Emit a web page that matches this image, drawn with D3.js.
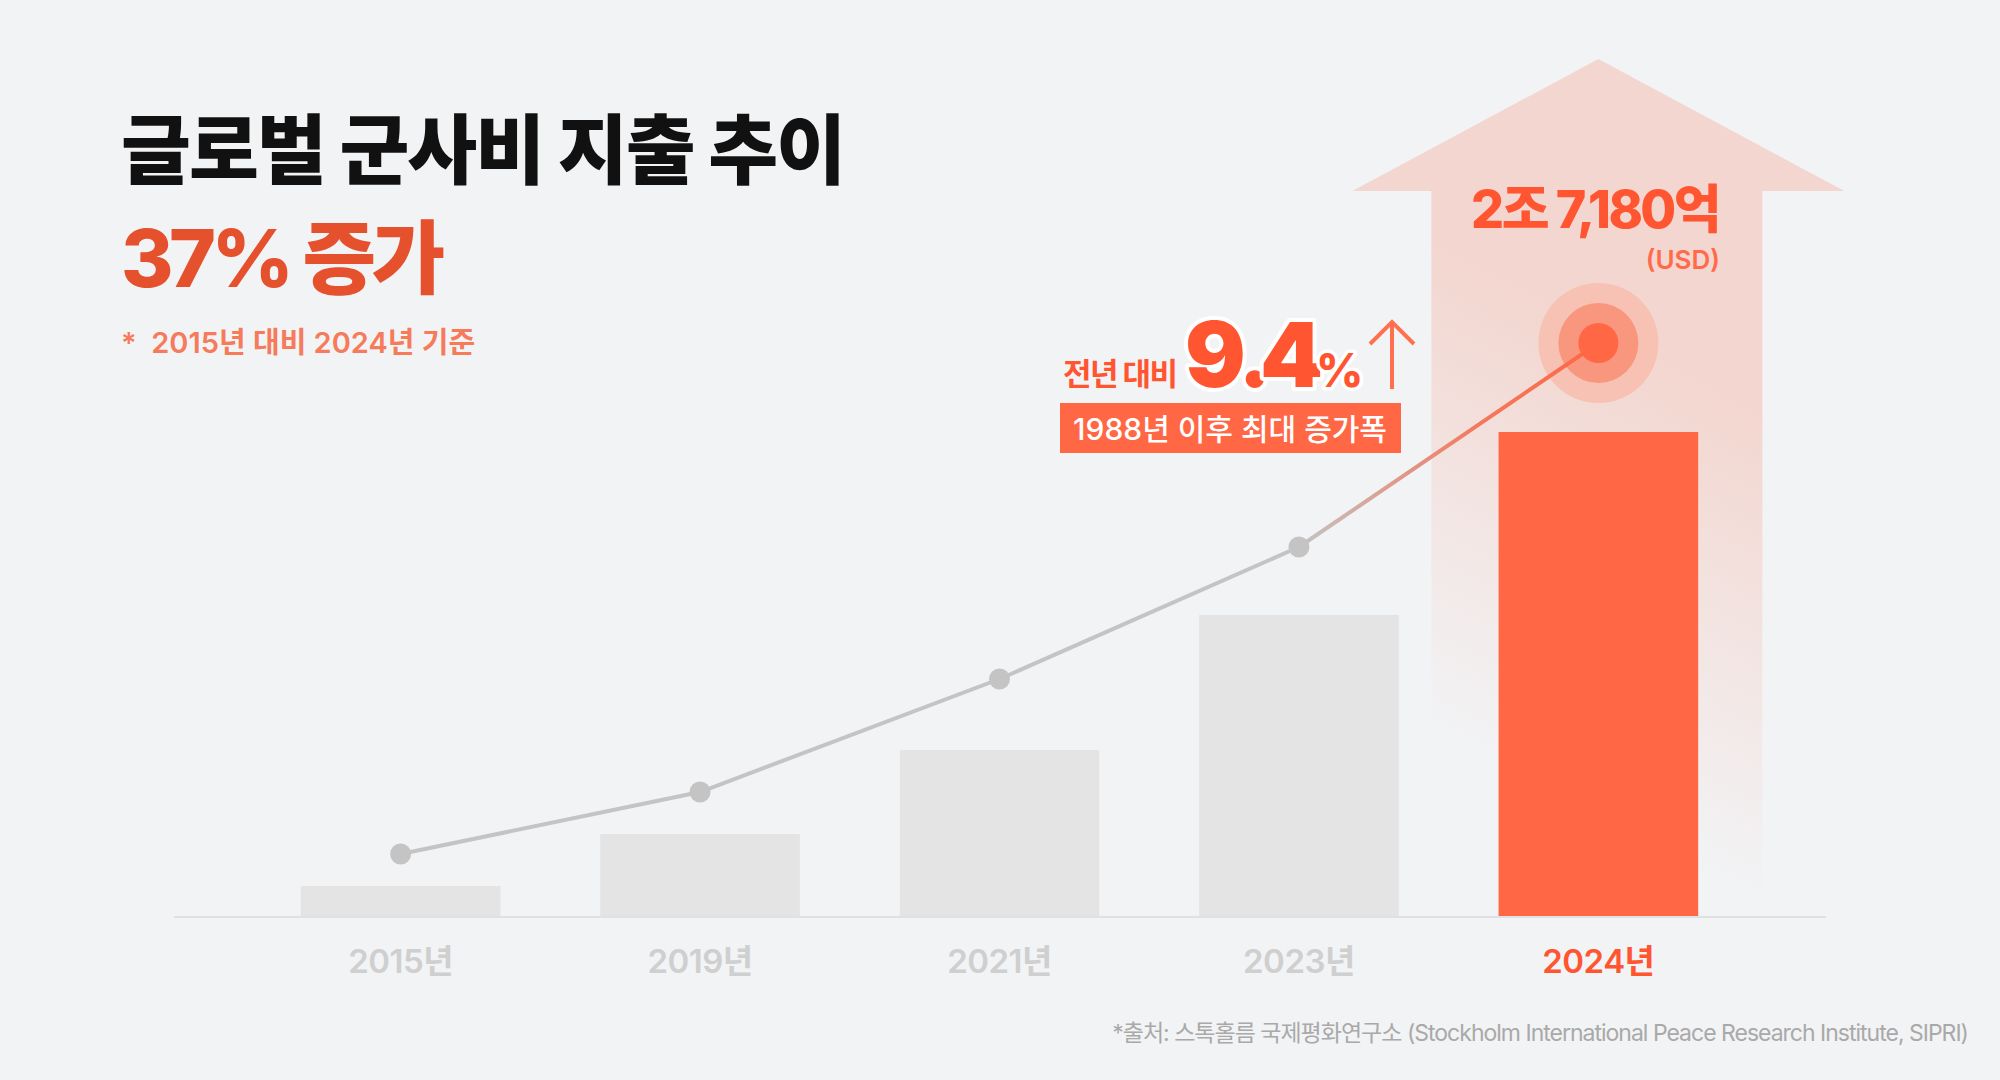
<!DOCTYPE html>
<html lang="ko">
<head>
<meta charset="UTF-8">
<title>글로벌 군사비 지출 추이</title>
<script src="https://d3js.org/d3.v7.min.js"></script>
<style>
  html, body { margin: 0; padding: 0; background: #f2f3f5; }
  svg { display: block; font-family: Inter, "Noto Sans CJK KR", sans-serif; }
</style>
</head>
<body>
<svg width="2000" height="1080"></svg>
<script>
// 데이터 (그림에서 읽은 상대값)
const years = ["2015년", "2019년", "2021년", "2023년", "2024년"];
const barValues = [30, 82, 166, 301, 484];
const lineValues = [62, 124, 237, 369, 573];
const highlightYear = "2024년";

const W = 2000, H = 1080;
const orange = "#ff6745";
const orangeText = "#ff5530";

const svg = d3.select("svg");
const defs = svg.append("defs");

svg.append("rect").attr("width", W).attr("height", H).attr("fill", "#f2f3f5");

const x = d3.scaleBand().domain(years).range([201, 1798]).padding(1 / 3);
const y = d3.scaleLinear().domain([0, 600]).range([916, 316]);
const cx = d => x(d) + x.bandwidth() / 2;

// 배경 화살표
const ag = defs.append("linearGradient").attr("id", "arrowGrad")
  .attr("x1", 0.65).attr("y1", 0).attr("x2", 0.35).attr("y2", 1);
ag.append("stop").attr("offset", 0).attr("stop-color", "#f3d6cf").attr("stop-opacity", 1);
ag.append("stop").attr("offset", 0.33).attr("stop-color", "#f3d6cf").attr("stop-opacity", 1);
ag.append("stop").attr("offset", 0.85).attr("stop-color", "#f3d6cf").attr("stop-opacity", 0);

const ac = cx(highlightYear);
const arrowPts = [
  [ac, 59], [ac + 246, 191], [ac + 164, 191], [ac + 164, 916],
  [ac - 167, 916], [ac - 167, 191], [ac - 246, 191]
];
svg.append("path")
  .attr("d", d3.line()(arrowPts) + "Z")
  .attr("fill", "url(#arrowGrad)");

// 막대
svg.append("g").selectAll("rect").data(years).join("rect")
  .attr("x", d => x(d))
  .attr("width", x.bandwidth())
  .attr("y", (d, i) => y(barValues[i]))
  .attr("height", (d, i) => y(0) - y(barValues[i]))
  .attr("fill", d => d === highlightYear ? orange : "#e4e4e4");

// 기준선
svg.append("line")
  .attr("x1", 174).attr("x2", 1826)
  .attr("y1", y(0) + 1).attr("y2", y(0) + 1)
  .attr("stroke", "#e0e1e3").attr("stroke-width", 2);

// x 라벨
const xAxis = svg.append("g")
  .attr("transform", `translate(0,${y(0)})`)
  .call(d3.axisBottom(x).tickSize(0).tickPadding(0));
xAxis.select(".domain").remove();
xAxis.selectAll("text")
  .attr("y", 57).attr("dy", 0)
  .attr("font-family", 'Inter, "Noto Sans CJK KR", sans-serif')
  .attr("font-size", 33).attr("font-weight", 600)
  .attr("letter-spacing", -0.5)
  .attr("fill", d => d === highlightYear ? orangeText : "#cfcfcf");

// 강조 원 (바깥쪽)
const hx = cx(highlightYear), hy = y(lineValues[4]);
svg.append("circle").attr("cx", hx).attr("cy", hy).attr("r", 60).attr("fill", "#f7c2b4");
svg.append("circle").attr("cx", hx).attr("cy", hy).attr("r", 40).attr("fill", "#f9967e");

// 추이선
const pts = years.map((d, i) => [cx(d), y(lineValues[i])]);
svg.append("path")
  .attr("d", d3.line()(pts.slice(0, 4)))
  .attr("fill", "none").attr("stroke", "#c4c4c4").attr("stroke-width", 4);

const lg = defs.append("linearGradient").attr("id", "lineGrad")
  .attr("gradientUnits", "userSpaceOnUse")
  .attr("x1", pts[3][0]).attr("y1", pts[3][1]).attr("x2", pts[4][0]).attr("y2", pts[4][1]);
lg.append("stop").attr("offset", 0).attr("stop-color", "#c4c4c4");
lg.append("stop").attr("offset", 0.6).attr("stop-color", "#f4785c");
lg.append("stop").attr("offset", 1).attr("stop-color", orange);
svg.append("path")
  .attr("d", d3.line()(pts.slice(3, 5)))
  .attr("fill", "none").attr("stroke", "url(#lineGrad)").attr("stroke-width", 4);

svg.append("g").selectAll("circle").data(pts.slice(0, 4)).join("circle")
  .attr("cx", d => d[0]).attr("cy", d => d[1]).attr("r", 10.5).attr("fill", "#c4c4c4");

svg.append("circle").attr("cx", hx).attr("cy", hy).attr("r", 20).attr("fill", orange);

// 제목
svg.append("text").attr("x", 121).attr("y", 178)
  .attr("font-size", 76).attr("font-weight", 800).attr("fill", "#111111")
  .attr("letter-spacing", -2)
  .text("글로벌 군사비 지출 추이");
svg.append("text").attr("x", 121).attr("y", 287)
  .attr("font-size", 80).attr("font-weight", 800).attr("fill", "#e5502d")
  .attr("letter-spacing", -4.5)
  .text("37% 증가");
svg.append("text").attr("x", 121).attr("y", 353)
  .attr("font-size", 29).attr("font-weight", 600).attr("fill", "#f57b5b")
  .attr("xml:space", "preserve").style("white-space", "pre")
  .text("*  2015년 대비 2024년 기준");

// 값 라벨
svg.append("text").attr("x", 1719).attr("y", 228).attr("text-anchor", "end")
  .attr("font-size", 52).attr("font-weight", 800).attr("fill", orangeText)
  .attr("letter-spacing", -2.6)
  .text("2조 7,180억");
svg.append("text").attr("x", 1720).attr("y", 269).attr("text-anchor", "end")
  .attr("font-size", 26).attr("font-weight", 600).attr("fill", "#ff6a4a")
  .text("(USD)");

// 전년 대비 9.4%
svg.append("text").attr("x", 1063).attr("y", 385)
  .attr("font-size", 31).attr("font-weight", 700).attr("fill", orangeText)
  .attr("letter-spacing", -1.6)
  .text("전년 대비");
const big = svg.append("text").attr("y", 387)
  .attr("font-size", 90).attr("font-weight", 900).attr("fill", orangeText)
  .attr("stroke", "#ffffff").attr("stroke-width", 8).attr("stroke-linejoin", "round")
  .attr("paint-order", "stroke");
big.append("tspan").attr("x", 1185).text("9");
big.append("tspan").attr("x", 1238).text(".");
big.append("tspan").attr("x", 1260).text("4");
big.append("tspan").attr("x", 1316).attr("font-size", 46).attr("font-weight", 800)
  .attr("stroke-width", 7).text("%");
svg.append("path")
  .attr("d", "M1392,389V322M1370,344L1392,322L1414,344")
  .attr("fill", "none").attr("stroke", "#ff7050").attr("stroke-width", 4);

svg.append("rect").attr("x", 1060).attr("y", 403).attr("width", 341).attr("height", 50)
  .attr("fill", orange);
svg.append("text").attr("x", 1230).attr("y", 440).attr("text-anchor", "middle")
  .attr("font-size", 30).attr("font-weight", 500).attr("fill", "#ffffff")
  .text("1988년 이후 최대 증가폭");

// 출처
svg.append("text").attr("x", 1968).attr("y", 1041).attr("text-anchor", "end")
  .attr("font-size", 23).attr("font-weight", 400).attr("fill", "#a9a9a9")
  .attr("letter-spacing", -1)
  .text("*출처: 스톡홀름 국제평화연구소 (Stockholm International Peace Research Institute, SIPRI)");
</script>
</body>
</html>
